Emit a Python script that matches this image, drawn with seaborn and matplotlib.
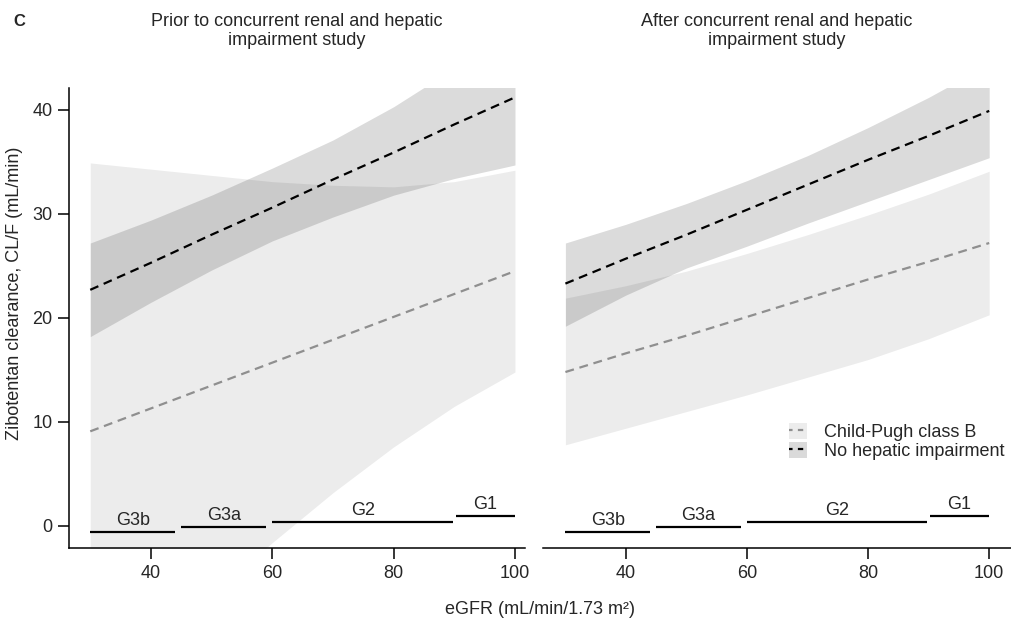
import numpy as np
import pandas as pd
import matplotlib
matplotlib.use('Agg')
import matplotlib.pyplot as plt
import seaborn as sns
from matplotlib.patches import Patch
from matplotlib.lines import Line2D
from matplotlib.legend_handler import HandlerTuple

sns.set_style('ticks')
plt.rcParams['font.family'] = ['Liberation Sans', 'DejaVu Sans']
plt.rcParams['font.size'] = 13

# eGFR grid (mL/min/1.73 m2)
egfr = [30, 40, 50, 60, 70, 80, 90, 100]

# prior to concurrent renal and hepatic impairment study
prior_none_mid = [22.7, 25.3, 28.0, 30.6, 33.3, 35.9, 38.6, 41.2]
prior_none_lo = [18.2, 21.5, 24.6, 27.4, 29.7, 31.8, 33.4, 34.7]
prior_none_hi = [27.2, 29.4, 31.8, 34.4, 37.1, 40.3, 44.0, 48.2]
prior_cp_mid = [9.1, 11.3, 13.5, 15.7, 17.9, 20.1, 22.3, 24.5]
prior_cp_lo = [-18.4, -12.4, -6.8, -1.6, 3.2, 7.6, 11.5, 14.8]
prior_cp_hi = [34.9, 34.3, 33.7, 33.1, 32.75, 32.6, 33.1, 34.2]

# after concurrent renal and hepatic impairment study
after_none_mid = [23.3, 25.7, 28.0, 30.4, 32.8, 35.2, 37.5, 39.9]
after_none_lo = [19.2, 22.2, 24.8, 26.9, 29.1, 31.2, 33.3, 35.4]
after_none_hi = [27.2, 29.0, 31.0, 33.2, 35.6, 38.3, 41.2, 44.4]
after_cp_mid = [14.8, 16.6, 18.3, 20.1, 21.9, 23.7, 25.4, 27.2]
after_cp_lo = [7.8, 9.4, 11.0, 12.6, 14.3, 16.0, 18.0, 20.3]
after_cp_hi = [21.9, 23.1, 24.5, 26.2, 28.0, 29.9, 31.9, 34.1]

groups = ['Child-Pugh class B', 'No hepatic impairment']
titles = ['Prior to concurrent renal and hepatic\nimpairment study',
          'After concurrent renal and hepatic\nimpairment study']

# CKD stage segments
stages = ['G3b', 'G3a', 'G2', 'G1']
stage_start = [30, 45, 60, 90.2]
stage_end = [44, 59, 89.8, 100]
stage_y = [-0.55, -0.05, 0.4, 1.0]

line_colors = {'Child-Pugh class B': '#8f8f8f', 'No hepatic impairment': '#000000'}
band_alpha = {'Child-Pugh class B': 0.075, 'No hepatic impairment': 0.14}
dash_style = {'Child-Pugh class B': (4, 2.6), 'No hepatic impairment': (4, 2.6)}

panels = [
    {'Child-Pugh class B': (prior_cp_mid, prior_cp_lo, prior_cp_hi),
     'No hepatic impairment': (prior_none_mid, prior_none_lo, prior_none_hi)},
    {'Child-Pugh class B': (after_cp_mid, after_cp_lo, after_cp_hi),
     'No hepatic impairment': (after_none_mid, after_none_lo, after_none_hi)},
]

W, H = 1011, 618
fig = plt.figure(figsize=(W / 100, H / 100), dpi=100)
ax1 = fig.add_axes([69 / W, (H - 548) / H, (525 - 69) / W, (548 - 88) / H])
ax2 = fig.add_axes([543 / W, (H - 548) / H, (1011 - 543) / W, (548 - 88) / H])
axes = [ax1, ax2]
xlims = [(26.5, 101.65), (26.3, 103.6)]

for ax, pdata, xl in zip(axes, panels, xlims):
    rows = []
    for g in groups:
        mid, lo, hi = pdata[g]
        ax.fill_between(egfr, lo, hi, color='black', alpha=band_alpha[g], lw=0)
        for x, y in zip(egfr, mid):
            rows.append({'egfr': x, 'cl': y, 'group': g})
    df = pd.DataFrame(rows)
    sns.lineplot(data=df, x='egfr', y='cl', hue='group', style='group',
                 palette=line_colors, dashes=dash_style, lw=1.6,
                 legend=False, ax=ax)
    for s, x0, x1, y in zip(stages, stage_start, stage_end, stage_y):
        ax.plot([x0, x1], [y, y], color='black', lw=1.6, solid_capstyle='butt')
        ax.annotate(s, ((x0 + x1) / 2, y), xytext=(0, 5), textcoords='offset points',
                    ha='center', va='baseline', fontsize=13)
    ax.set_xlim(*xl)
    ax.set_ylim(-2.115, 42.1)
    ax.set_xticks([40, 60, 80, 100])
    ax.set_xlabel('')
    ax.set_ylabel('')
    ax.tick_params(length=8, width=1.1, pad=4, labelsize=13, color='black')
    for sp in ax.spines.values():
        sp.set_linewidth(1.1)
        sp.set_color('black')

ax1.set_yticks([0, 10, 20, 30, 40])
sns.despine(ax=ax1)
sns.despine(ax=ax2, left=True)
ax2.set_yticks([])

for ax, t in zip(axes, titles):
    pos = ax.get_position()
    fig.text((pos.x0 + pos.x1) / 2, 1 - 31 / H, t, ha='center', va='center',
             multialignment='center', fontsize=13, linespacing=1.12)

fig.text(19 / W, 1 - 21 / H, 'C', weight='bold', fontsize=12, ha='center', va='center')
fig.text(15 / W, 1 - 293 / H, 'Zibotentan clearance, CL/F (mL/min)', rotation=90,
         ha='center', va='center', fontsize=13)
fig.text(540 / W, 1 - 609 / H, 'eGFR (mL/min/1.73 m²)', ha='center', va='center', fontsize=13)

handles = []
for g, fc in zip(groups, ['#ececec', '#dadada']):
    handles.append((Patch(facecolor=fc, edgecolor='none'),
                    Line2D([], [], color=line_colors[g], lw=1.6,
                           linestyle=(0.8, (2.4, 2.4)), dash_capstyle='butt')))
fig.legend(handles, groups, handler_map={tuple: HandlerTuple(ndivide=1, pad=0)},
           loc='upper left', bbox_to_anchor=(789 / W, 1 - 423 / H), frameon=False,
           borderpad=0, borderaxespad=0, handlelength=1.0, handleheight=1.0,
           handletextpad=0.95, labelspacing=0.05, fontsize=13)

fig.savefig('out.png', dpi=100)
